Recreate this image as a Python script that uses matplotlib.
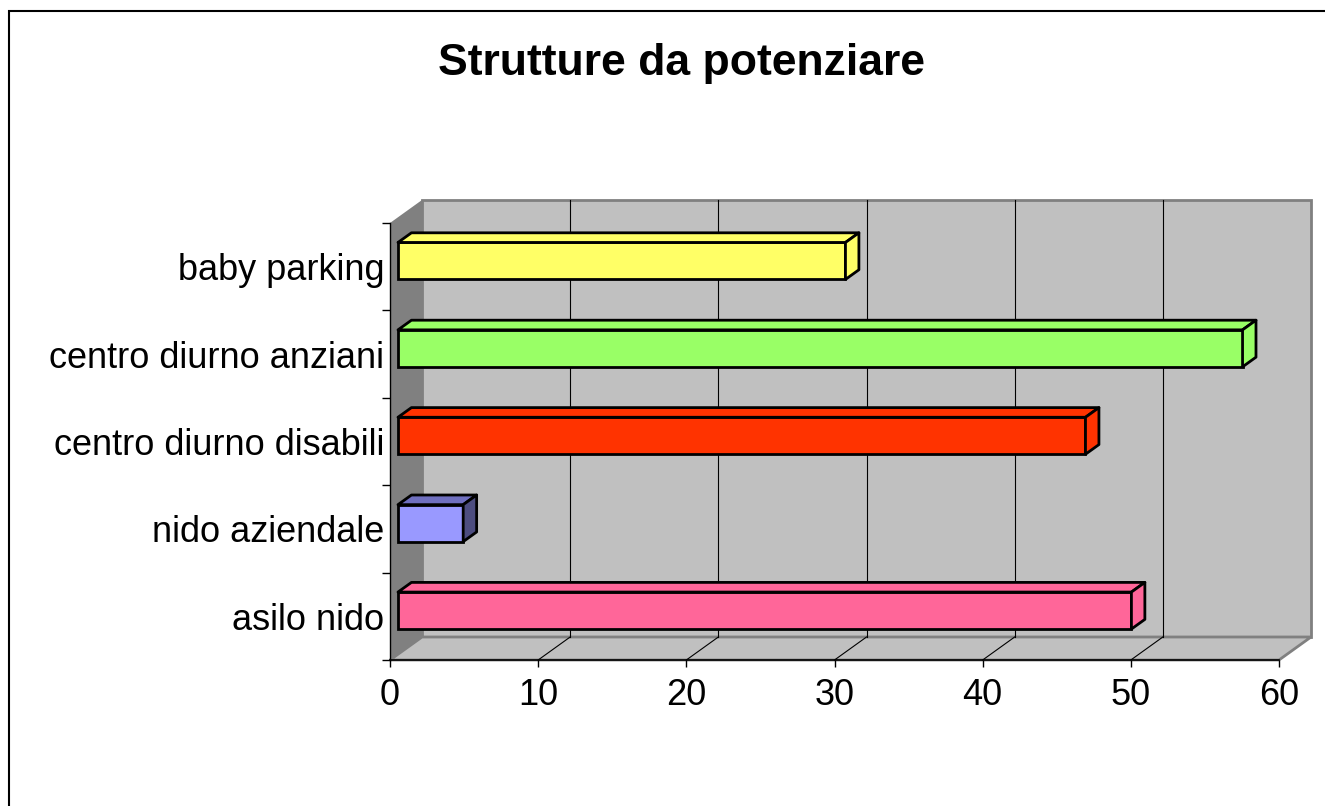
import numpy as np
import matplotlib
matplotlib.use("Agg")
from matplotlib import pyplot as plt
from matplotlib.patches import Polygon, Rectangle

plt.rcParams['font.family'] = ['Liberation Sans', 'DejaVu Sans']

# dati
categorie = ['asilo nido', 'nido aziendale', 'centro diurno disabili',
             'centro diurno anziani', 'baby parking']
valori = [49.5, 4.4, 46.4, 57.0, 30.2]
colori = ['#FF6699', '#9999FF', '#FF3300', '#99FF66', '#FFFF66']
colori_top = ['#FF6699', '#6F6FBF', '#FF3300', '#99FF66', '#FFFF66']
colori_lato = ['#FF6699', '#4D4D80', '#FF3300', '#99FF66', '#FFFF66']
xticks = [0, 10, 20, 30, 40, 50, 60]

W, H = 1325, 806
fig = plt.figure(figsize=(W / 100, H / 100), dpi=100)
ax = fig.add_axes([390 / W, (H - 660) / H, (1279 - 390) / W, (660 - 223) / H])
ax.set_xlim(0, 60)
ax.set_ylim(0, 5)
ax.set_facecolor('none')

# profondita' 3D in unita' dati
DX = 32 * 60 / 889.0
DY = 23 * 5 / 437.0

# pareti
ax.add_patch(Polygon([(DX, DY), (60 + DX, DY), (60 + DX, 5 + DY), (DX, 5 + DY)],
                     closed=True, fc='#C0C0C0', ec='#808080', lw=2, clip_on=False, zorder=0))
ax.add_patch(Polygon([(0, 0), (DX, DY), (DX, 5 + DY), (0, 5)],
                     closed=True, fc='#808080', ec='none', clip_on=False, zorder=0.5))
ax.add_patch(Polygon([(0, 0), (60, 0), (60 + DX, DY), (DX, DY)],
                     closed=True, fc='#C0C0C0', ec='#808080', lw=2, clip_on=False, zorder=0.5))

# griglia
for x in xticks[1:-1]:
    ax.plot([x + DX, x + DX], [DY, 5 + DY], color='k', lw=0.8, clip_on=False, zorder=1)
    ax.plot([x, x + DX], [0, DY], color='k', lw=0.8, clip_on=False, zorder=1)

# barre
f0, f1, h = 0.25, 0.67, 0.423
yc = np.arange(len(valori)) + 0.5 + f0 * DY
ax.barh(yc, valori, left=f0 * DX, height=h, color=colori, edgecolor='k',
        linewidth=2, zorder=3, clip_on=False)
ddx, ddy = (f1 - f0) * DX, (f1 - f0) * DY
for i, v in enumerate(valori):
    x0, x1 = f0 * DX, v + f0 * DX
    yb, yt = yc[i] - h / 2, yc[i] + h / 2
    ax.add_patch(Polygon([(x0, yt), (x1, yt), (x1 + ddx, yt + ddy), (x0 + ddx, yt + ddy)],
                         closed=True, fc=colori_top[i], ec='k', lw=2, joinstyle='round',
                         clip_on=False, zorder=3))
    ax.add_patch(Polygon([(x1, yb), (x1 + ddx, yb + ddy), (x1 + ddx, yt + ddy), (x1, yt)],
                         closed=True, fc=colori_lato[i], ec='k', lw=2, joinstyle='round',
                         clip_on=False, zorder=3))

# assi
for s in ['top', 'right']:
    ax.spines[s].set_visible(False)
ax.spines['left'].set_linewidth(1)
ax.spines['bottom'].set_linewidth(1.2)
ax.spines['left'].set_zorder(2)
ax.spines['bottom'].set_zorder(2)
ax.set_xticks(xticks)
ax.set_xticklabels([str(t) for t in xticks], fontsize=26)
ax.tick_params(axis='x', length=5, width=1, pad=8)
ax.set_yticks(np.arange(len(categorie)) + 0.5)
ax.set_yticklabels(categorie, fontsize=26)
ax.set_yticks(np.arange(0, 6), minor=True)
ax.tick_params(axis='y', which='major', length=0, pad=4)
ax.tick_params(axis='y', which='minor', length=6, width=1)

fig.text(681 / W, 1 - 75 / H, 'Strutture da potenziare', fontsize=32,
         fontweight='bold', ha='center', va='baseline')

fig.add_artist(Rectangle((8.5 / W, -0.1), 1.2, 1 - 10.5 / H + 0.1, fill=False,
                         lw=1.5, ec='k', transform=fig.transFigure))

fig.savefig('out.png', dpi=100)
